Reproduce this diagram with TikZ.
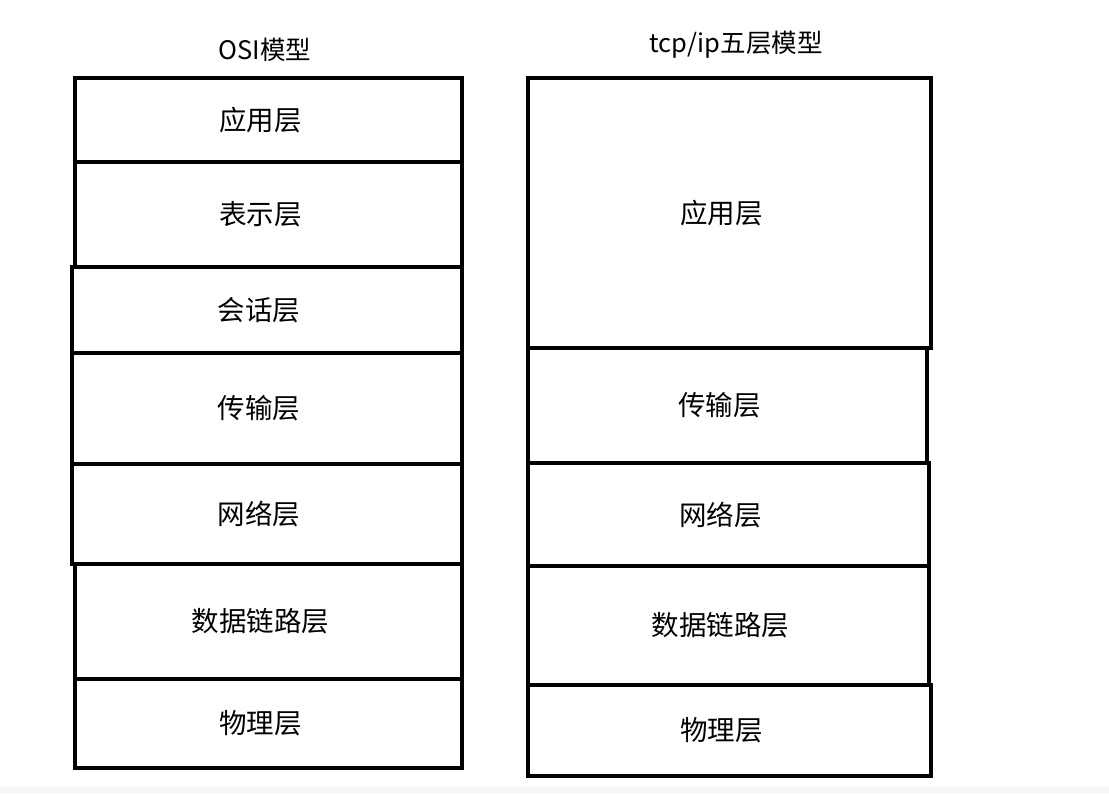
\documentclass[tikz,border=0pt]{standalone}
\usepackage{fontspec}
\setmainfont{Noto Sans CJK SC}
\begin{document}
\begin{tikzpicture}[x=1pt,y=-1pt,
  layer/.style={draw=black,line width=4.5pt,rectangle,inner sep=0pt,
    font=\fontsize{27.5}{32}\selectfont,execute at end node=\hspace*{16pt}},
  osi/.style={layer,minimum width=387pt},
  tcp/.style={layer,minimum width=403pt},
  title/.style={font=\fontsize{25.5}{30}\selectfont,inner sep=0pt}]
\useasboundingbox (0,0) rectangle (1109,793);
\fill[gray!6] (0,787) rectangle (1109,793);
% titles
\node[title] (otitle) at (265,50) {OSI模型};
\node[title] (ttitle) at (736,45) {tcp/ip五层模型};
% OSI model
\node[osi,minimum height=84pt]  (o1) at (268.5,120)   {应用层};
\node[osi,minimum height=105pt] (o2) at (268.5,214.5) {表示层};
\node[osi,minimum height=86pt,minimum width=390pt]  (o3) at (267,310)   {会话层};
\node[osi,minimum height=111pt,minimum width=390pt] (o4) at (267,408.5) {传输层};
\node[osi,minimum height=100pt,minimum width=390pt] (o5) at (267,514)   {网络层};
\node[osi,minimum height=115pt] (o6) at (268.5,621.5) {数据链路层};
\node[osi,minimum height=89pt]  (o7) at (268.5,723.5) {物理层};
% TCP/IP model
\node[tcp,minimum height=270pt] (t1) at (729.5,213)   {应用层};
\node[tcp,minimum height=115pt,minimum width=399pt] (t2) at (727.5,405.5) {传输层};
\node[tcp,minimum height=103pt,minimum width=401pt] (t3) at (728.5,514.5) {网络层};
\node[tcp,minimum height=119pt,minimum width=401pt] (t4) at (728.5,625.5) {数据链路层};
\node[tcp,minimum height=91pt]  (t5) at (729.5,730.5) {物理层};
\end{tikzpicture}
\end{document}
